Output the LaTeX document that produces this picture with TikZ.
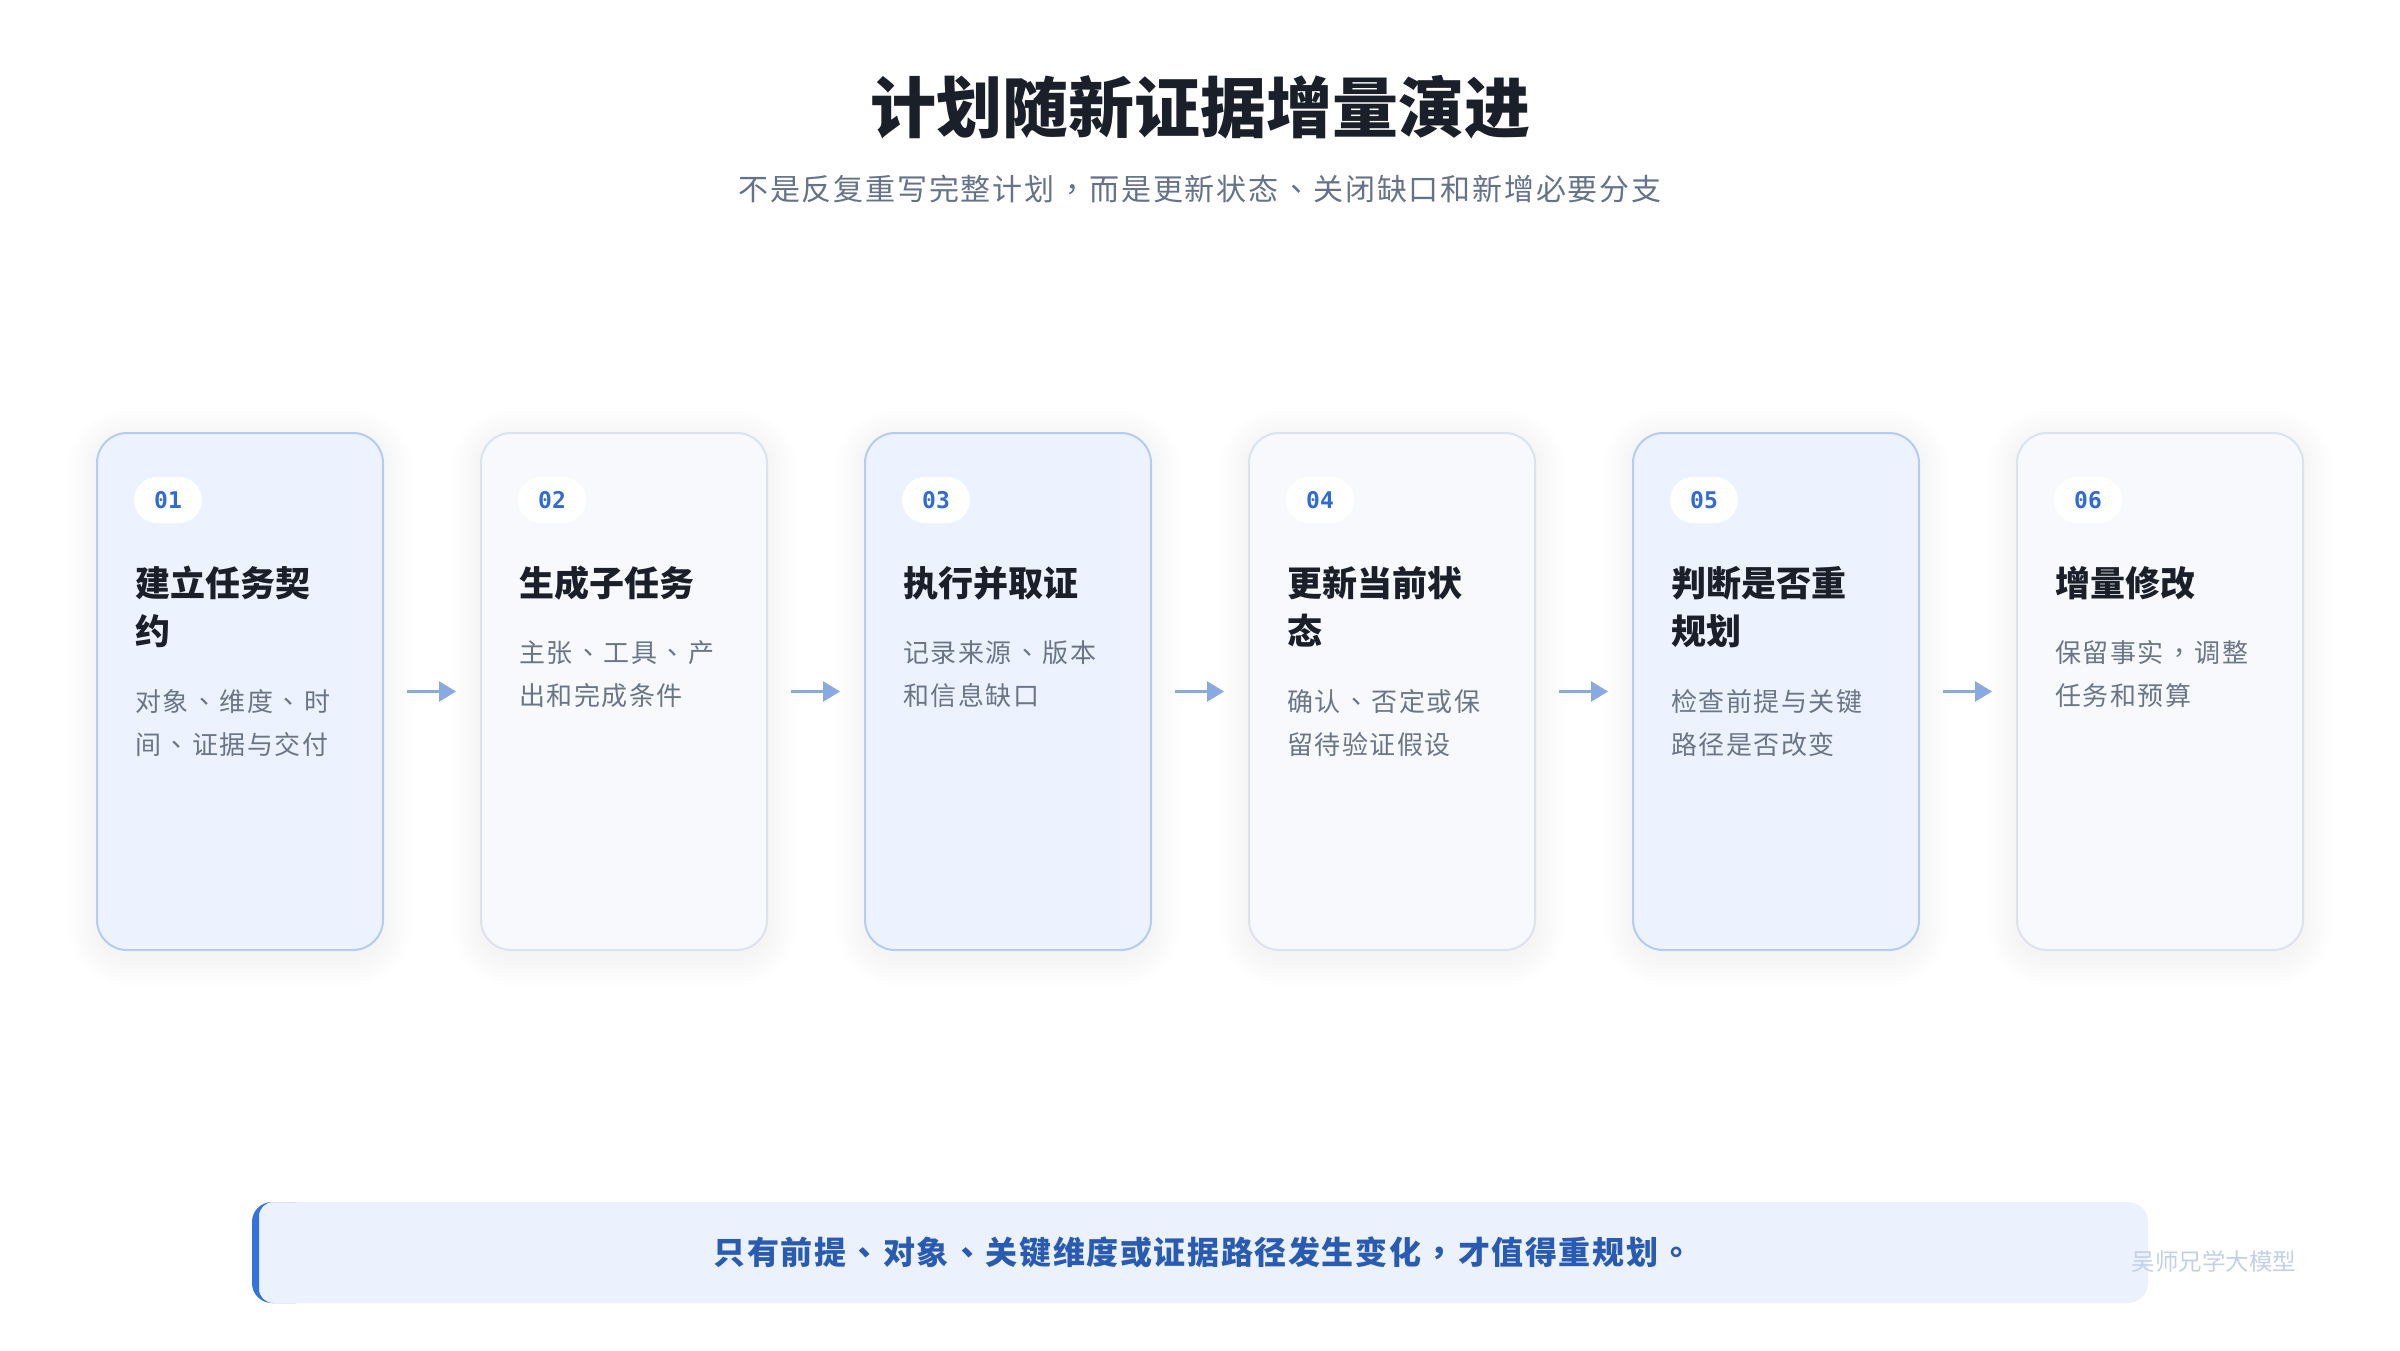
\documentclass[tikz,border=0pt]{standalone}
\usepackage{fontspec}
\setmainfont{Noto Sans CJK SC}
\newfontfamily\numfont{DejaVu Sans Mono}
\newfontfamily\punctfont{Noto Sans CJK TC}
\newcommand\dun{\kern2.5pt{\punctfont 、}\kern2.5pt}
\newcommand\dou{\kern2.5pt{\punctfont ，}\kern2.5pt}
\newcommand\jup{\kern2.5pt{\punctfont 。}}
\usetikzlibrary{arrows.meta}
\definecolor{cardblue}{HTML}{EDF3FE}
\definecolor{cardblueb}{HTML}{B4CCF0}
\definecolor{cardgray}{HTML}{F7F9FC}
\definecolor{cardgrayb}{HTML}{DCE3EC}
\definecolor{titlec}{HTML}{1A1F29}
\definecolor{descc}{HTML}{6A7588}
\definecolor{subc}{HTML}{64728A}
\definecolor{numblue}{HTML}{2E6BD9}
\definecolor{arrowc}{HTML}{8AA9DF}
\definecolor{bannerbg}{HTML}{EBF2FE}
\definecolor{accent}{HTML}{3572DA}
\definecolor{bannertxt}{HTML}{2A5BB2}
\definecolor{wmc}{HTML}{C3D0EA}
\tikzset{
  card/.style={rounded corners=30pt, line width=2pt, minimum width=286pt, minimum height=517pt, inner sep=0pt},
  bluecard/.style={card, fill=cardblue, draw=cardblueb},
  graycard/.style={card, fill=cardgray, draw=cardgrayb},
  badge/.style={fill=white, rounded corners=23pt, minimum width=68pt, minimum height=46pt, inner sep=0pt, text=numblue, font=\numfont\bfseries\fontsize{23}{23}\selectfont},
  ttl/.style={anchor=base west, inner sep=0pt, text=titlec, font=\bfseries\fontsize{35}{35}\selectfont},
  dsc/.style={anchor=base west, inner sep=0pt, text=descc, font=\fontsize{26}{26}\selectfont\addfontfeatures{LetterSpace=6}},
  arr/.style={draw=arrowc, line width=3pt, -{Triangle[length=17pt,width=20pt]}, shorten <=23pt, shorten >=24pt}
}
\begin{document}
\begin{tikzpicture}[x=1pt,y=-1pt]
\useasboundingbox[fill=white] (0,0) rectangle (2400,1350);

% header
\node[inner sep=0pt, text=titlec, font=\bfseries\fontsize{66}{66}\selectfont] (title) at (1200,107) {计划随新证据增量演进};
\node[inner sep=0pt, text=subc, font=\fontsize{30}{30}\selectfont\addfontfeatures{LetterSpace=6}] (subtitle) at (1200,189) {不是反复重写完整计划\dou 而是更新状态\dun 关闭缺口和新增必要分支};

% shadows
\foreach \L in {97,481,865,1249,1633,2017}{
  \foreach \k in {1,...,10}{
    \pgfmathsetmacro\r{30+3*\k}
    \fill[black, opacity=0.0035, rounded corners=\r pt] (\L-3*\k, 433-3*\k+6) rectangle (\L+286+3*\k, 950+3*\k+6);
  }
}

% cards
\node[bluecard] (c1) at (240,691.5) {};
\node[graycard] (c2) at (624,691.5) {};
\node[bluecard] (c3) at (1008,691.5) {};
\node[graycard] (c4) at (1392,691.5) {};
\node[bluecard] (c5) at (1776,691.5) {};
\node[graycard] (c6) at (2160,691.5) {};

% badges
\node[badge] (b1) at (168,500) {01};
\node[badge] (b2) at (552,500) {02};
\node[badge] (b3) at (936,500) {03};
\node[badge] (b4) at (1320,500) {04};
\node[badge] (b5) at (1704,500) {05};
\node[badge] (b6) at (2088,500) {06};

% card 1
\node[ttl] (t1a) at (135,596) {建立任务契};
\node[ttl] (t1b) at (135,644) {约};
\node[dsc] (d1a) at (135,711) {对象\dun 维度\dun 时};
\node[dsc] (d1b) at (135,754) {间\dun 证据与交付};
% card 2
\node[ttl] (t2a) at (519,596) {生成子任务};
\node[dsc] (d2a) at (519,662) {主张\dun 工具\dun 产};
\node[dsc] (d2b) at (519,705) {出和完成条件};
% card 3
\node[ttl] (t3a) at (903,596) {执行并取证};
\node[dsc] (d3a) at (903,662) {记录来源\dun 版本};
\node[dsc] (d3b) at (903,705) {和信息缺口};
% card 4
\node[ttl] (t4a) at (1287,596) {更新当前状};
\node[ttl] (t4b) at (1287,644) {态};
\node[dsc] (d4a) at (1287,711) {确认\dun 否定或保};
\node[dsc] (d4b) at (1287,754) {留待验证假设};
% card 5
\node[ttl] (t5a) at (1671,596) {判断是否重};
\node[ttl] (t5b) at (1671,644) {规划};
\node[dsc] (d5a) at (1671,711) {检查前提与关键};
\node[dsc] (d5b) at (1671,754) {路径是否改变};
% card 6
\node[ttl] (t6a) at (2055,596) {增量修改};
\node[dsc] (d6a) at (2055,662) {保留事实\dou 调整};
\node[dsc] (d6b) at (2055,705) {任务和预算};

% arrows
\draw[arr] (c1) -- (c2);
\draw[arr] (c2) -- (c3);
\draw[arr] (c3) -- (c4);
\draw[arr] (c4) -- (c5);
\draw[arr] (c5) -- (c6);

% banner
\node[minimum width=1896pt, minimum height=101pt, rounded corners=20pt, fill=bannerbg, inner sep=0pt] (banner) at (1200,1252.5) {};
\begin{scope}
  \clip (248,1195) rectangle (296,1310);
  \fill[accent, even odd rule] [rounded corners=20pt] (252,1202) rectangle (2148,1303) [rounded corners=14pt] (259,1202) rectangle (2200,1303);
\end{scope}
\node[inner sep=0pt, text=bannertxt, font=\bfseries\fontsize{32}{32}\selectfont\addfontfeatures{LetterSpace=5}] (bannertext) at (1203,1252) {只有前提\dun 对象\dun 关键维度或证据路径发生变化\dou 才值得重规划\jup};

% watermark
\node[inner sep=0pt, text=wmc, font=\fontsize{23.5}{23.5}\selectfont] (wm) at (2214,1261) {吴师兄学大模型};
\end{tikzpicture}
\end{document}
